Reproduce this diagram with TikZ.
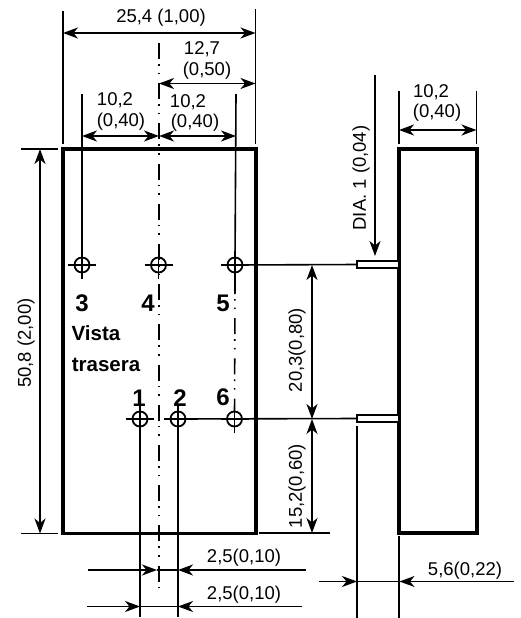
\documentclass[tikz,border=0pt]{standalone}
\usepackage{fontspec}
\setmainfont{Liberation Sans}
\usetikzlibrary{arrows.meta}

\begin{document}
\begin{tikzpicture}[x=1pt,y=-1pt,>={Stealth[length=15pt,width=11pt,inset=4.5pt]},
                    line width=1.6pt]
  \tikzstyle{plate}=[draw,line width=3.6pt,inner sep=0pt,outer sep=0pt]
  \tikzstyle{pin}=[draw,line width=1.8pt,fill=white,inner sep=0pt,outer sep=0pt,
                   minimum width=42pt,minimum height=7pt]
  \tikzstyle{hole}=[draw,circle,line width=1.8pt,inner sep=0pt,outer sep=0pt,minimum size=15pt]
  \tikzstyle{dim}=[font=\fontsize{18.5}{20}\selectfont,inner sep=0pt]
  \tikzstyle{num}=[font=\fontsize{24}{26}\selectfont\bfseries,inner sep=0pt]
  \tikzstyle{view}=[font=\fontsize{20.5}{22}\selectfont\bfseries,inner sep=0pt]
  \tikzstyle{axis}=[dash pattern=on 16pt off 5pt on 1.6pt off 7pt on 1.6pt off 9pt]
  \useasboundingbox (0,0) rectangle (520,618);

  % bodies
  \node[plate,minimum width=192.5pt,minimum height=384.5pt] (back) at (159.5,341.2) {};
  \node[plate,minimum width=77.5pt,minimum height=384pt] (side) at (438,341) {};
  \node[pin] (pinA) at (378,264.5) {};
  \node[pin] (pinB) at (378,418.5) {};

  % holes
  \node[hole] (h3) at (82,265) {};
  \node[hole] (h4) at (158.5,265) {};
  \node[hole] (h5) at (235,265) {};
  \node[hole] (h1) at (140,419) {};
  \node[hole] (h2) at (178,419) {};
  \node[hole] (h6) at (234.5,419) {};
  \foreach \h in {h1,h2,h3,h4,h5,h6}
    \draw ([xshift=-14pt]\h.center) -- ([xshift=14pt]\h.center)
          ([yshift=-14pt]\h.center) -- ([yshift=14pt]\h.center);

  % free ends
  \coordinate (tlA) at (63,11);  \coordinate (tlB) at (63,144);
  \coordinate (trA) at (255.5,9);  \coordinate (trB) at (255.5,144);
  \coordinate (top) at (63,33);  \coordinate (topR) at (255.5,33);
  \coordinate (cA) at (159,43);  \coordinate (cB) at (159,590);
  \coordinate (midL) at (159,83.5);  \coordinate (midR) at (255.5,83.5);
  \coordinate (e3) at (82,94);  \coordinate (e5) at (236,94);
  \coordinate (nL) at (82,136);  \coordinate (nC) at (159,136);  \coordinate (nR) at (236,136);
  \coordinate (hA) at (21,149);  \coordinate (hB) at (58,149);
  \coordinate (hC) at (21,533.5);  \coordinate (hD) at (58,533.5);
  \coordinate (hT) at (40,149);  \coordinate (hU) at (40,533.5);
  \coordinate (sA) at (399,91);  \coordinate (sB) at (399,144);
  \coordinate (sC) at (476.5,91);  \coordinate (sD) at (476.5,144);
  \coordinate (sL) at (399,130);  \coordinate (sR) at (476.5,130);
  \coordinate (dA) at (375,75);  \coordinate (dB) at (375,256);
  \coordinate (vA) at (312,265);  \coordinate (vB) at (312,419);  \coordinate (vC) at (312,533);
  \coordinate (bA) at (259,533);  \coordinate (bB) at (330,533);
  \coordinate (e1) at (140,617);  \coordinate (e2) at (178,617);
  \coordinate (a1) at (88,570);  \coordinate (a2) at (157,570);
  \coordinate (a3) at (306,570);  \coordinate (a4) at (178,570);
  \coordinate (b1) at (87,606.5);  \coordinate (b2) at (140,606.5);
  \coordinate (b3) at (302,606.5);  \coordinate (b4) at (178,606.5);
  \coordinate (p1) at (357,426);  \coordinate (p2) at (357,618);
  \coordinate (p3) at (399,536);  \coordinate (p4) at (399,618);
  \coordinate (q1) at (319,581.5);  \coordinate (q2) at (357,581.5);
  \coordinate (q3) at (514,581.5);  \coordinate (q4) at (399.5,581.5);

  % centre lines
  \draw[axis] (cA) -- (cB);
  \draw[axis] (h5) ++(0,13) -- (h6);

  % extension lines
  \draw (tlA) -- (tlB);
  \draw (trA) -- (trB);
  \draw (e3) -- (h3);
  \draw (e5) -- (h5);
  \draw (hA) -- (hB);
  \draw (hC) -- (hD);
  \draw (sA) -- (sB);
  \draw (sC) -- (sD);
  \draw (h1) -- (e1);
  \draw (h2) -- (e2);
  \draw (h5) -- (pinA.west);
  \draw (h2) -- (pinB.west);
  \draw (bA) -- (bB);
  \draw (p1) -- (p2);
  \draw (p3) -- (p4);

  % dimension arrows
  \draw[<->] (top) -- (topR);
  \draw[<->] (midL) -- (midR);
  \draw[<->] (nL) -- (nC);
  \draw[<->] (nC) -- (nR);
  \draw[<->] (hT) -- (hU);
  \draw[<->] (sL) -- (sR);
  \draw[->] (dA) -- (dB);
  \draw[<->] (vA) -- (vB);
  \draw[<->] (vB) -- (vC);
  \draw[->] (a1) -- (a2);
  \draw (a2) -- (a4);
  \draw[->] (a3) -- (a4);
  \draw[->] (b1) -- (b2);
  \draw (b2) -- (b4);
  \draw[->] (b3) -- (b4);
  \draw[->] (q1) -- (q2);
  \draw (q2) -- (q4);
  \draw[->] (q3) -- (q4);

  % labels
  \node[dim] (lTop) at (161,18) {25,4 (1,00)};
  \node[dim] (lMidA) at (202,49) {12,7};
  \node[dim] (lMidB) at (207,71) {(0,50)};
  \node[dim] (lLeftA) at (115,100) {10,2};
  \node[dim] (lLeftB) at (121,122) {(0,40)};
  \node[dim] (lRightA) at (188,102) {10,2};
  \node[dim] (lRightB) at (195,123) {(0,40)};
  \node[dim] (lSideA) at (431,92) {10,2};
  \node[dim] (lSideB) at (437,113) {(0,40)};
  \node[dim,rotate=90] (lHeight) at (26,343) {50,8 (2,00)};
  \node[dim,rotate=90] (lDia) at (361,178) {DIA. 1 (0,04)};
  \node[dim,rotate=90] (lPitch) at (297,350) {20,3(0,80)};
  \node[dim,rotate=90] (lLow) at (297,486) {15,2(0,60)};
  \node[dim] (lGapA) at (244,558) {2,5(0,10)};
  \node[dim] (lGapB) at (244,595) {2,5(0,10)};
  \node[dim] (lPin) at (465,571) {5,6(0,22)};
  \node[num] (n3) at (82,303) {3};
  \node[num] (n4) at (148,303) {4};
  \node[num] (n5) at (223,303) {5};
  \node[num] (n1) at (139,398) {1};
  \node[num] (n2) at (180,398) {2};
  \node[num] (n6) at (223,397) {6};
  \node[view] (lVista) at (96,333) {Vista};
  \node[view] (lTrasera) at (106,365) {trasera};
\end{tikzpicture}
\end{document}
